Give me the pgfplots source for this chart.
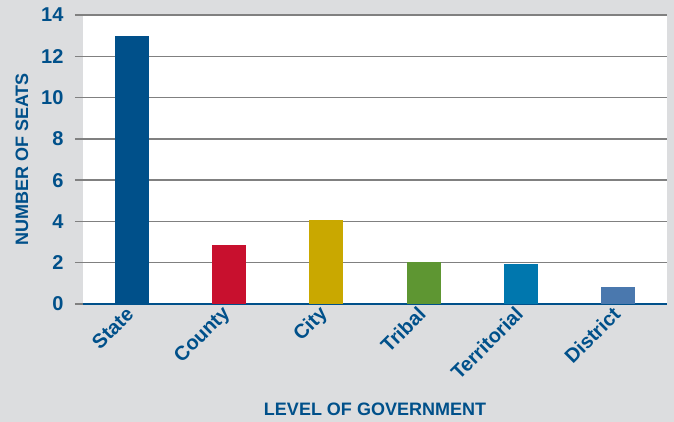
\documentclass[border=0pt]{standalone}
\usepackage{fontspec}
\setmainfont{Liberation Sans}
\usepackage{pgfplots}
\pgfplotsset{compat=1.18}
\definecolor{bg}{HTML}{DCDDDF}
\definecolor{navy}{HTML}{00508A}
\definecolor{cstate}{HTML}{00508A}
\definecolor{ccounty}{HTML}{C8102E}
\definecolor{ccity}{HTML}{C9A800}
\definecolor{ctribal}{HTML}{5E9632}
\definecolor{cterr}{HTML}{0077AE}
\definecolor{cdist}{HTML}{4A78AE}
\definecolor{gridc}{HTML}{808080}
\begin{document}
\begin{tikzpicture}
\fill[bg] (-83pt,-118pt) rectangle (591pt,304pt);
\begin{axis}[
  at={(0pt,0pt)}, anchor=south west,
  scale only axis, width=584pt, height=289pt,
  xmin=-0.5, xmax=5.5, ymin=0, ymax=14,
  ybar, bar width=0.35, bar shift=0pt,
  axis background/.style={fill=white},
  axis x line*=bottom, axis y line*=left,
  x axis line style={draw=navy, line width=1.2pt},
  y axis line style={draw=none},
  ytick={0,2,...,14},
  ymajorgrids, grid style={gridc, line width=1.5pt},
  ytick style={gridc, line width=1.5pt},
  tick align=outside, major tick length=8pt,
  xtick={0,1,2,3,4,5},
  xticklabels={State,County,City,Tribal,Territorial,District},
  xtick style={draw=none},
  extra x ticks={-0.5,0.5,1.5,2.5,3.5,4.5,5.5},
  extra x tick labels={},
  extra x tick style={tick style={draw=navy, line width=1.2pt}, major tick length=11pt, grid=none},
  /pgf/number format/assume math mode=true,
  ticklabel style={font=\fontsize{20}{22}\selectfont\bfseries, text=navy},
  yticklabel style={xshift=-8pt},
  xticklabel style={rotate=45, anchor=east, yshift=2pt, xshift=3pt},
  label style={font=\fontsize{18}{20}\selectfont\bfseries, text=navy},
  xlabel={LEVEL OF GOVERNMENT},
  ylabel={NUMBER OF SEATS},
  xlabel style={at={(axis description cs:0.5,-0.363)}, anchor=center},
  ylabel style={at={(axis description cs:-0.1045,0.5)}, anchor=center, rotate=0},
  every axis plot/.append style={draw=none},
]
\addplot[fill=cstate] coordinates {(0,13)};
\addplot[fill=ccounty] coordinates {(1,2.85)};
\addplot[fill=ccity] coordinates {(2,4.05)};
\addplot[fill=ctribal] coordinates {(3,2.03)};
\addplot[fill=cterr] coordinates {(4,1.93)};
\addplot[fill=cdist] coordinates {(5,0.8)};
\end{axis}
\pgfresetboundingbox
\useasboundingbox (-83pt,-118pt) rectangle (591pt,304pt);
\end{tikzpicture}
\end{document}
